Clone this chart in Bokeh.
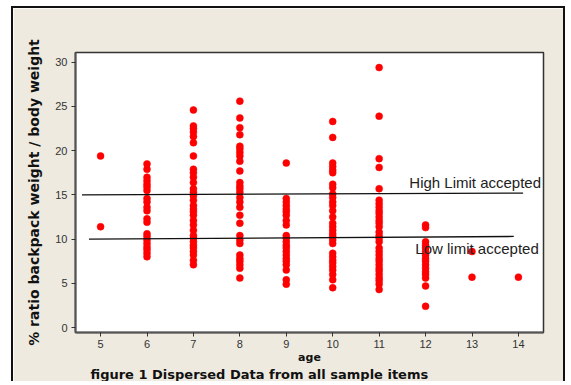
from bokeh.plotting import figure
from bokeh.models import Range1d, FixedTicker, Title
from bokeh.embed import file_html
from bokeh.resources import INLINE
from bokeh.core.properties import value

# ---- data ----
age_5 = [19.4, 11.4]
age_6 = [18.5, 17.9, 17.0, 16.6, 16.2, 15.9, 15.5, 14.6, 14.2, 13.6, 13.2, 12.3, 11.9,
         10.6, 10.3, 9.9, 9.5, 9.1, 8.8, 8.4, 8.0]
age_7 = [24.6, 22.8, 22.5, 22.1, 21.6, 20.9, 19.4, 17.9, 17.5, 17.0, 16.4, 15.7, 15.3,
         14.9, 14.4, 13.8, 13.4, 13.1, 12.7, 12.1, 11.6, 11.0, 10.4, 10.1, 9.7, 9.3,
         9.0, 8.6, 8.2, 7.6, 7.1]
age_8 = [25.6, 23.7, 22.6, 21.8, 20.5, 20.2, 19.8, 19.4, 18.8, 17.7, 16.4, 16.0, 15.7,
         15.3, 14.7, 14.2, 13.6, 12.7, 11.8, 10.4, 9.9, 9.5, 8.2, 7.8, 7.5, 7.1, 6.7, 5.6]
age_9 = [18.6, 14.6, 14.2, 13.8, 13.4, 13.1, 12.7, 12.1, 11.6, 10.4, 10.1, 9.7, 9.3,
         9.0, 8.6, 8.2, 7.8, 7.5, 7.1, 6.5, 5.4, 4.9]
age_10 = [23.3, 21.5, 18.6, 18.2, 17.8, 17.5, 16.2, 15.8, 15.1, 14.7, 14.2, 13.8, 13.2,
          12.5, 11.8, 11.4, 11.0, 10.6, 10.3, 9.9, 9.5, 8.4, 8.0, 7.6, 7.3, 6.9, 6.5,
          6.0, 5.4, 4.5]
age_11 = [29.4, 23.9, 19.1, 18.1, 15.7, 14.4, 14.0, 13.6, 13.2, 12.9, 12.5, 12.1, 11.8,
          11.4, 10.8, 10.4, 10.1, 9.7, 9.0, 8.6, 8.2, 7.8, 7.5, 7.1, 6.7, 6.4, 6.0, 5.6,
          5.3, 4.9, 4.3]
age_12 = [11.6, 11.3, 9.7, 9.3, 9.0, 8.6, 8.2, 7.8, 7.5, 7.1, 6.7, 6.3, 6.0, 5.6, 4.7, 2.4]
age_13 = [8.6, 5.7]
age_14 = [5.7]

ages = [5, 6, 7, 8, 9, 10, 11, 12, 13, 14]
ratios_by_age = [age_5, age_6, age_7, age_8, age_9, age_10, age_11, age_12, age_13, age_14]

x_ticks = [5, 6, 7, 8, 9, 10, 11, 12, 13, 14]
y_ticks = [0, 5, 10, 15, 20, 25, 30]

high_limit_age = [4.6, 14.1]
high_limit_val = [15.0, 15.2]
low_limit_age = [4.75, 13.9]
low_limit_val = [10.0, 10.3]

high_text = "High Limit accepted"
low_text = "Low limit accepted"
x_title = "age"
y_title = "% ratio backpack weight / body weight"
fig_title = "figure 1   Dispersed Data from all sample items"

xs, ys = [], []
for a, vals in zip(ages, ratios_by_age):
    xs += [a] * len(vals)
    ys += vals

BEIGE = "#EEEAE0"

p = figure(width=554, height=375, output_backend="svg", toolbar_location=None,
           x_range=Range1d(4.46, 14.54), y_range=Range1d(-0.56, 31.1),
           min_border_left=62, min_border_right=24, min_border_top=44, min_border_bottom=0)
p.styles = {"margin-left": "11px", "margin-top": "6px",
            "border-left": "2px solid #111111", "border-top": "2px solid #111111",
            "border-right": "2px solid #111111"}
p.border_fill_color = BEIGE
p.background_fill_color = "white"
p.outline_line_color = "#333333"
p.outline_line_width = 1.5
p.xgrid.visible = False
p.ygrid.visible = False

p.scatter(xs, ys, size=7, fill_color="#FF0000", line_color="#FF0000", line_width=0.5)

p.line(high_limit_age, high_limit_val, line_color="#111111", line_width=1.3)
p.line(low_limit_age, low_limit_val, line_color="#111111", line_width=1.3)

p.text(x=[11.65], y=[16.35], text=[high_text], text_font=value("Liberation Sans"),
       text_font_size="15px", text_color="#222222", text_baseline="middle", text_align="left")
p.text(x=[11.78], y=[8.96], text=[low_text], text_font=value("Liberation Sans"),
       text_font_size="15px", text_color="#222222", text_baseline="middle", text_align="left")

for ax in (p.xaxis[0], p.yaxis[0]):
    ax.axis_line_color = "#555555"
    ax.axis_line_width = 2
    ax.major_tick_line_color = "#333333"
    ax.major_tick_in = 0
    ax.major_tick_out = 4
    ax.minor_tick_line_color = None
    ax.major_label_text_font = "Liberation Sans"
    ax.major_label_text_font_size = "11px"
    ax.major_label_text_color = "#333333"
    ax.major_label_standoff = 4
    ax.axis_label_text_font = "DejaVu Sans"
    ax.axis_label_text_font_style = "bold"
    ax.axis_label_text_color = "#111111"

p.xaxis.ticker = FixedTicker(ticks=x_ticks)
p.yaxis.ticker = FixedTicker(ticks=y_ticks)
p.xaxis.major_label_standoff = 3
p.xaxis.axis_label = x_title
p.xaxis.axis_label_text_font_size = "11px"
p.xaxis.axis_label_standoff = 0
p.yaxis.axis_label = y_title
p.yaxis.axis_label_text_font_size = "14px"
p.yaxis.axis_label_standoff = 10

p.add_layout(Title(text=fig_title, text_font="DejaVu Sans", text_font_style="bold",
                   text_font_size="13px", text_color="#111111", align="left",
                   vertical_align="top", offset=15, standoff=0), "below")

open("out.html", "w").write(file_html(p, INLINE))
